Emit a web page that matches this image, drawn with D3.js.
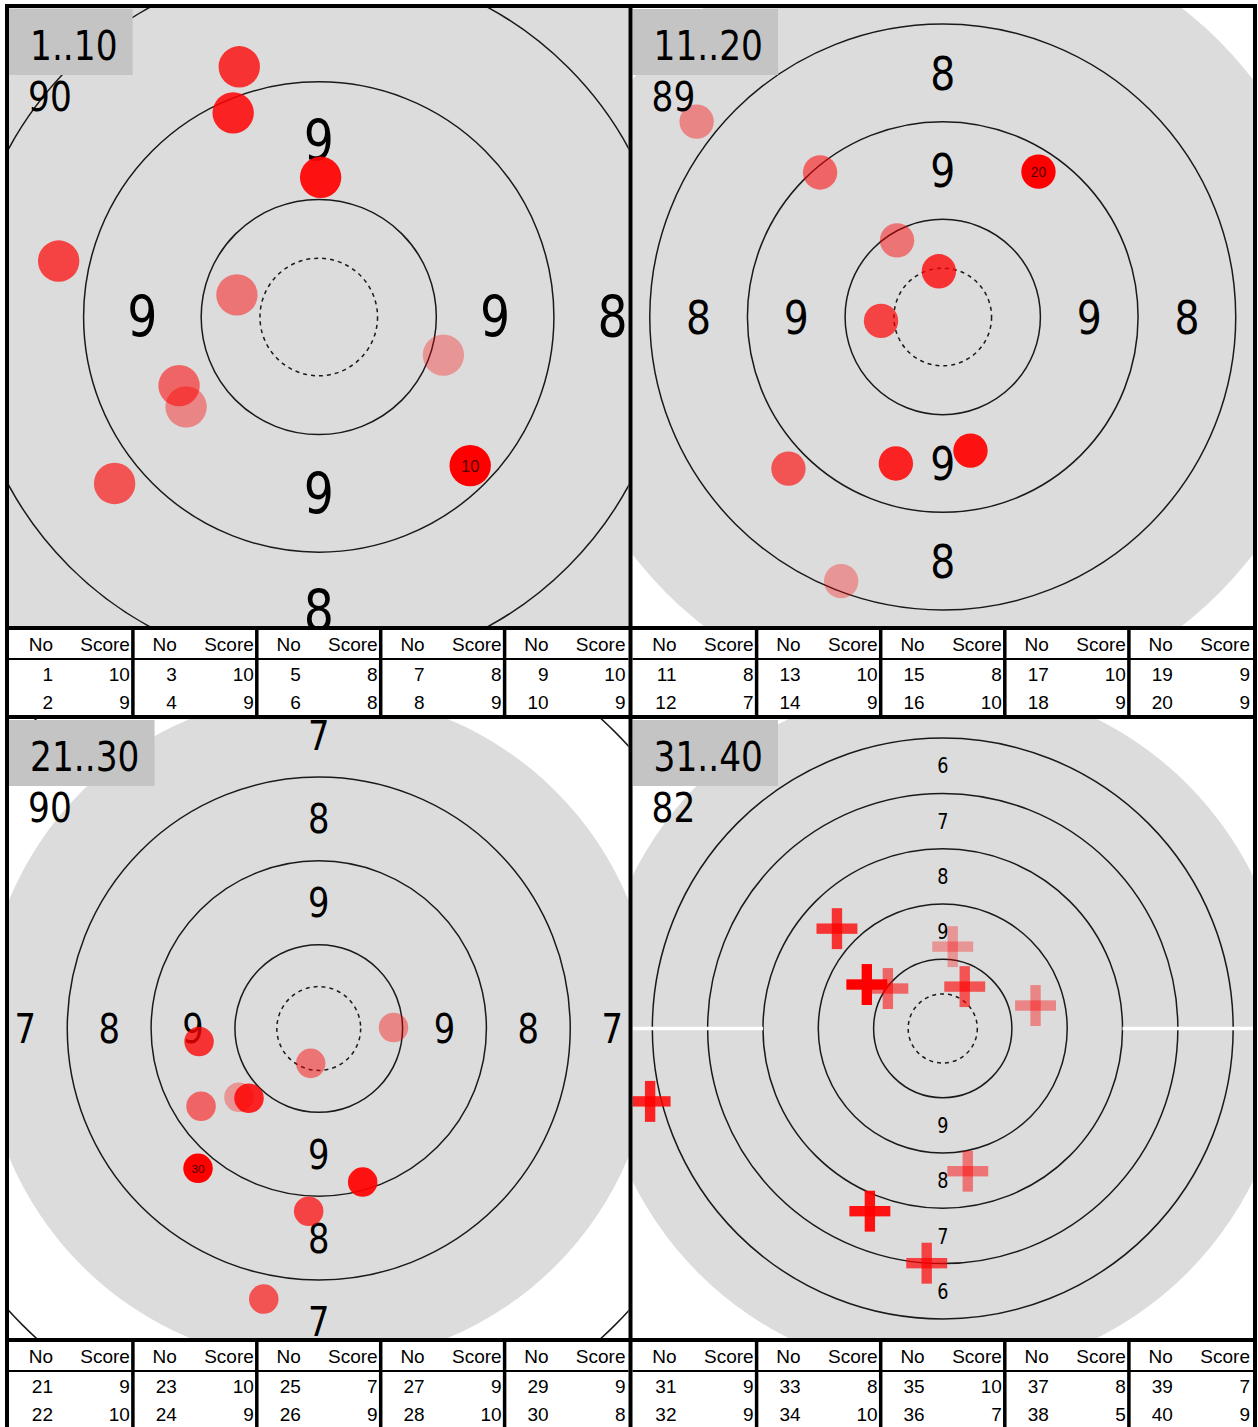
<!DOCTYPE html>
<html><head><meta charset="utf-8">
<script src="https://cdn.jsdelivr.net/npm/d3@7"></script>
<style>html,body{margin:0;padding:0;background:#fff;} svg{display:block;}</style>
</head><body>
<svg id="chart" width="1258" height="1427"></svg>
<script>
// ---------------- data ----------------
const groupLabels = ["1..10", "11..20", "21..30", "31..40"];
const targetTypes = ["precision", "precision", "precision", "rapid"];
const shotNumbers = d3.range(1, 41);
const shotScores = [10, 9, 10, 9, 8, 8, 8, 9, 10, 9,
                    8, 7, 10, 9, 8, 10, 10, 9, 9, 9,
                    9, 10, 10, 9, 7, 9, 9, 10, 9, 8,
                    9, 9, 8, 10, 10, 7, 8, 5, 7, 9];
// shot positions in mm from target centre (x right, y up)
const shotX = [26.5, -28.2, -17.4, -29.7, -43.4, -55.3, -16.9, -18.2, 0.4, 32.2,
               -26.0, -63.0, -11.7, -31.4, -39.5, -15.8, -1.0, -12.0, 7.1, 24.5,
               -23.8, 22.3, -2.4, -35.1, -16.4, -3.0, -35.7, -20.8, 13.1, -36.0,
               7.2, 67.1, 18.1, -39.7, 15.9, -11.6, -76.5, -211.6, -52.7, -54.9];
const shotY = [-8.1, -19.1, 4.7, -14.6, -35.4, 11.9, 53.2, 43.4, 29.7, -31.6,
               -67.6, 50.0, 19.6, 37.0, -38.8, -1.0, 11.7, -37.5, -34.2, 37.2,
               -20.5, 0.3, -10.4, -23.2, -80.7, -54.5, -3.9, -20.8, -45.8, -41.7,
               59.2, 16.6, -103.2, 28.9, 30.3, -169.7, 72.2, -52.7, -132.1, 31.8];
const tableHeaders = ["No", "Score"];
// target specs (mm): ring radii for scores 10,9,8,...
const precisionRings = [25, 50, 75, 100, 125, 150, 175, 200, 225, 250];
const rapidRings = [50, 90, 130, 170, 210, 250];

// ---------------- layout ----------------
const targetSpec = {
  precision: {rings: precisionRings, inner: 12.5, black: 100, labelZones: [9, 8, 7, 6, 5], labelSides: ["l", "r", "t", "b"], whiteLine: null, labelMm: 12, fixedLabelPx: null},
  rapid: {rings: rapidRings, inner: 25, black: 250, labelZones: [9, 8, 7, 6], labelSides: ["t", "b"], whiteLine: 130, labelMm: null, fixedLabelPx: 21}
};
const panelLeft = [9, 632.5, 9, 632.5];
const panelTop = [8, 8, 719, 719];
const panelW = [619.5, 620.5, 619.5, 620.5];
const panelH = [618, 618, 619, 619];
const viewRadius = [65.7, 79.1, 92.3, 223.8];
const hiddenLabels = [["8t", "8l"], [], [], []];
const tableTop = [630, 1342];

const svg = d3.select("#chart");
const W = 1258, H = 1427;
svg.append("rect").attr("width", W).attr("height", H).attr("fill", "#fff");
const defs = svg.append("defs");
const opacity = d3.scaleLinear().domain([1, 10]).range([0.32, 1]);
const titleFont = "'DejaVu Sans', Verdana, sans-serif";
const squeeze = 0.84;

function squeezedText(g, x, y, txt, size, anchor) {
  const gg = g.append("g").attr("transform", `translate(${x},${y}) scale(${squeeze},1)`);
  return gg.append("text").attr("x", 0).attr("y", 0)
    .attr("font-family", titleFont).attr("font-size", size)
    .attr("text-anchor", anchor).attr("fill", "#000").text(txt);
}

groupLabels.forEach((label, p) => {
  const spec = targetSpec[targetTypes[p]];
  const L = panelLeft[p], T = panelTop[p], w = panelW[p], h = panelH[p];
  const cx = L + w / 2, cy = T + h / 2, half = Math.min(w, h) / 2;
  const R = viewRadius[p];
  const xs = d3.scaleLinear().domain([-R, R]).range([cx - half, cx + half]);
  const ys = d3.scaleLinear().domain([-R, R]).range([cy + half, cy - half]);
  const k = xs(1) - xs(0);

  defs.append("clipPath").attr("id", "clip" + p)
    .append("rect").attr("x", L).attr("y", T).attr("width", w).attr("height", h);
  const g = svg.append("g").attr("clip-path", `url(#clip${p})`);

  // black (gray) aiming area
  g.append("circle").attr("cx", xs(0)).attr("cy", ys(0)).attr("r", spec.black * k).attr("fill", "#dcdcdc");

  // rings
  g.selectAll("circle.ring").data(spec.rings.filter(r => r !== spec.black)).join("circle")
    .attr("class", "ring").attr("cx", xs(0)).attr("cy", ys(0)).attr("r", r => r * k)
    .attr("fill", "none").attr("stroke", "#1a1a1a").attr("stroke-width", 1.5);
  g.append("circle").attr("cx", xs(0)).attr("cy", ys(0)).attr("r", spec.inner * k)
    .attr("fill", "none").attr("stroke", "#1a1a1a").attr("stroke-width", 1.5).attr("stroke-dasharray", "4,4");

  if (spec.whiteLine) {
    [[-R - 5, -spec.whiteLine], [spec.whiteLine, R + 5]].forEach(([a, b]) => {
      g.append("line").attr("x1", xs(a)).attr("x2", xs(b)).attr("y1", ys(0)).attr("y2", ys(0))
        .attr("stroke", "#fff").attr("stroke-width", 3.5);
    });
  }

  // zone labels (only those whose centre lies inside the panel)
  const fs = spec.fixedLabelPx || spec.labelMm * k;
  spec.labelZones.forEach(z => {
    const idx = 10 - z;
    const rIn = spec.rings[idx - 1], rOut = spec.rings[idx];
    if (rIn === undefined || rOut === undefined) return;
    const rm = (rIn + rOut) / 2;
    const pos = {l: [-rm, 0], r: [rm, 0], t: [0, rm], b: [0, -rm]};
    spec.labelSides.forEach(s => {
      if (hiddenLabels[p].includes(z + s)) return;
      const [mx, my] = pos[s];
      const px = xs(mx), py = ys(my);
      if (px < L + 4 || px > L + w - 4 || py < T + 4 || py > T + h - 4) return;
      squeezedText(g, px, py, String(z), fs, "middle").attr("dy", "0.36em");
    });
  });

  // shots
  const ids = d3.range(p * 10, p * 10 + 10);
  if (targetTypes[p] === "rapid") {
    const arm = 14.8 * k, th = 7.5 * k;
    ids.forEach(i => {
      const n = shotNumbers[i] - p * 10;
      const sx = xs(shotX[i]), sy = ys(shotY[i]);
      g.append("rect").attr("x", sx - arm).attr("y", sy - th / 2).attr("width", 2 * arm).attr("height", th)
        .attr("fill", "#ff0000").attr("fill-opacity", opacity(n));
      g.append("rect").attr("x", sx - th / 2).attr("y", sy - arm).attr("width", th).attr("height", 2 * arm)
        .attr("fill", "#ff0000").attr("fill-opacity", opacity(n));
    });
  } else {
    const mr = 4.4 * k;
    ids.forEach(i => {
      const n = shotNumbers[i] - p * 10;
      g.append("circle").attr("cx", xs(shotX[i])).attr("cy", ys(shotY[i])).attr("r", mr)
        .attr("fill", "#ff0000").attr("fill-opacity", opacity(n));
      if (n === 10) {
        g.append("text").attr("x", xs(shotX[i])).attr("y", ys(shotY[i])).attr("dy", "0.36em")
          .attr("text-anchor", "middle").attr("font-family", "'Liberation Sans', Arial, sans-serif")
          .attr("font-size", mr * 0.8).attr("fill", "#500000").text(shotNumbers[i]);
      }
    });
  }

  // title box + total
  const tg = g.append("g");
  const box = tg.append("rect").attr("x", L).attr("y", T + 1).attr("height", 66).attr("fill", "#c4c4c4");
  const tt = squeezedText(tg, L + 21, T + 52, label, 41, "start");
  const tw = tt.node().getComputedTextLength() * squeeze;
  box.attr("width", 21 + tw + 15);
  const total = d3.sum(ids, i => shotScores[i]);
  squeezedText(tg, L + 19, T + 103, String(total), 41, "start");
});

// ---------------- tables ----------------
const tableFont = "'Liberation Sans', Arial, sans-serif";
[0, 1].forEach(t => {
  const ty = tableTop[t];
  [0, 1].forEach(hIdx => {
    const p = t * 2 + hIdx;
    const L = panelLeft[p], w = panelW[p];
    const gw = w / 5;
    const tg = svg.append("g");
    d3.range(5).forEach(c => {
      const gx = L + c * gw;
      const hdrY = ty + 21;
      tg.append("text").attr("x", gx + 44).attr("y", hdrY).attr("text-anchor", "end")
        .attr("font-family", tableFont).attr("font-size", 19).text(tableHeaders[0]);
      tg.append("text").attr("x", gx + gw - 3).attr("y", hdrY).attr("text-anchor", "end")
        .attr("font-family", tableFont).attr("font-size", 19).text(tableHeaders[1]);
      [0, 1].forEach(r => {
        const i = p * 10 + c * 2 + r;
        const yy = ty + 51 + r * 28;
        tg.append("text").attr("x", gx + 44).attr("y", yy).attr("text-anchor", "end")
          .attr("font-family", tableFont).attr("font-size", 19).text(shotNumbers[i]);
        tg.append("text").attr("x", gx + gw - 3).attr("y", yy).attr("text-anchor", "end")
          .attr("font-family", tableFont).attr("font-size", 19).text(shotScores[i]);
      });
      if (c > 0) {
        tg.append("rect").attr("x", gx - 1.75).attr("y", ty).attr("width", 3.5).attr("height", 86).attr("fill", "#000");
      }
    });
    tg.append("rect").attr("x", L).attr("y", ty + 28).attr("width", w).attr("height", 2).attr("fill", "#000");
  });
});

// ---------------- grid borders ----------------
const borders = [
  [5, 4, 4, 1423], [628.5, 4, 4, 1423], [1253, 4, 4, 1423],
  [5, 4, 1252, 4], [5, 626, 1252, 4], [5, 715, 1252, 4], [5, 1338, 1252, 4]
];
svg.selectAll("rect.border").data(borders).join("rect").attr("class", "border")
  .attr("x", d => d[0]).attr("y", d => d[1]).attr("width", d => d[2]).attr("height", d => d[3]).attr("fill", "#000");
</script>
</body></html>
